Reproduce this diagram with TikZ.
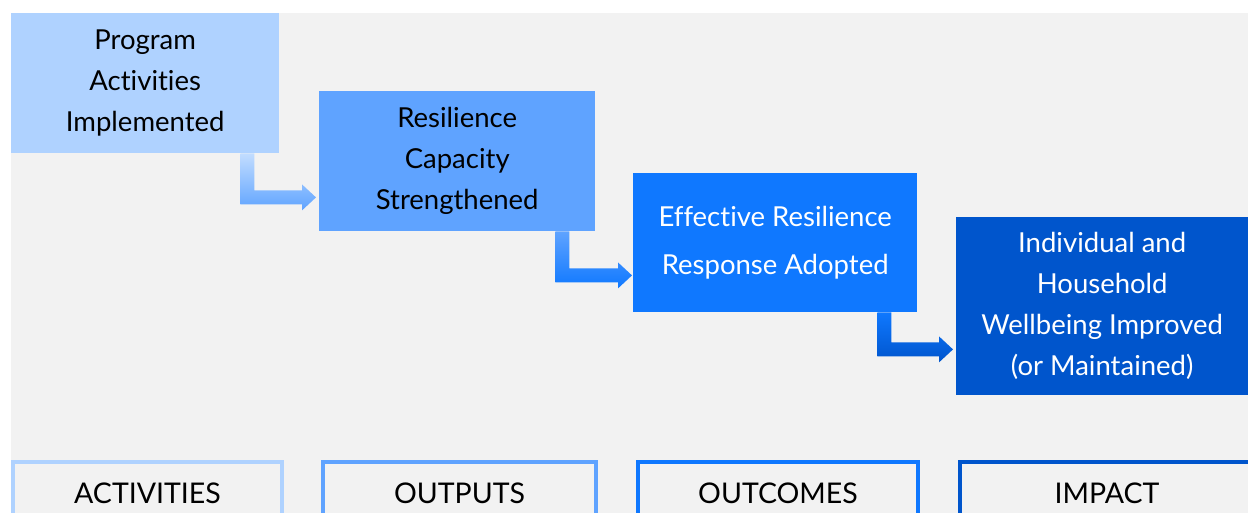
\documentclass[tikz,border=0pt]{standalone}
\usepackage{fontspec}
\setmainfont[Ligatures={NoCommon,NoContextual}]{Lato}
\usetikzlibrary{calc}
\definecolor{bg}{HTML}{F2F2F2}
\definecolor{cA}{HTML}{AFD2FF}
\definecolor{cB}{HTML}{5FA3FF}
\definecolor{cC}{HTML}{0F78FF}
\definecolor{cD}{HTML}{0055CC}
\definecolor{aA}{HTML}{C2DDFF}
\newcommand\elbowarrow[4]{%
  \shade[top color=#3, bottom color=#4] let \p1=(#1), \p2=(#2) in
    (\x1-7pt,\y1) -- (\x1+7pt,\y1) -- (\x1+7pt,\y2+7pt) -- (\x2-14pt,\y2+7pt)
    -- (\x2-14pt,\y2+13pt) -- (\x2,\y2) -- (\x2-14pt,\y2-13pt) -- (\x2-14pt,\y2-7pt)
    -- (\x1-7pt,\y2-7pt) -- cycle;}
\begin{document}
\begin{tikzpicture}[x=1pt,y=-1pt,
  stage/.style={rectangle, inner sep=0pt, anchor=north west, align=center,
    font=\fontsize{27.5}{41}\selectfont},
  label/.style={rectangle, draw, line width=4pt, fill=bg, inner sep=0pt,
    anchor=north west},
  labeltext/.style={font=\fontsize{28.5}{32}\selectfont, inner sep=0pt}]
\useasboundingbox (0,0) rectangle (1248,513);
\clip (0,0) rectangle (1248,513);
\fill[white] (0,0) rectangle (1248,513);
\fill[bg] (11,13) rectangle (1248,513);
% stage boxes
\node[stage, fill=cA, text=black, minimum width=268pt, minimum height=140pt] (b1) at (11,13)
  {Program\\Activities\\Implemented};
\node[stage, fill=cB, text=black, minimum width=276pt, minimum height=140pt] (b2) at (319,91)
  {Resilience\\Capacity\\Strengthened};
\node[stage, fill=cC, text=white, minimum width=284pt, minimum height=139pt,
  font=\fontsize{27.5}{48}\selectfont] (b3) at (633,173)
  {Effective Resilience\\Response Adopted};
\node[stage, fill=cD, text=white, minimum width=292pt, minimum height=178pt] (b4) at (956,217)
  {Individual and\\Household\\Wellbeing Improved\\(or Maintained)};
% elbow arrows
\coordinate (s1) at ($(b1.south east)+(-32,0)$);
\coordinate (t1) at ($(b2.south west)+(-3,-34)$);
\elbowarrow{s1}{t1}{aA}{cB}
\coordinate (s2) at ($(b2.south east)+(-33,0)$);
\coordinate (t2) at ($(b3.south west)+(-1,-37)$);
\elbowarrow{s2}{t2}{cB}{cC}
\coordinate (s3) at ($(b3.south east)+(-33,0)$);
\coordinate (t3) at ($(b4.south west)+(-3,-46)$);
\elbowarrow{s3}{t3}{cC}{cD}
% category labels
\node[label, draw=cA, minimum width=269pt, minimum height=80pt] (l1) at (11,460) {};
\node[labeltext] at ($(l1.north)+(0,33)$) (l1t) {ACTIVITIES};
\node[label, draw=cB, minimum width=273pt, minimum height=80pt] (l2) at (321,460) {};
\node[labeltext] at ($(l2.north)+(0,33)$) (l2t) {OUTPUTS};
\node[label, draw=cC, minimum width=280pt, minimum height=80pt] (l3) at (636,460) {};
\node[labeltext] at ($(l3.north)+(0,33)$) (l3t) {OUTCOMES};
\node[label, draw=cD, minimum width=294pt, minimum height=80pt] (l4) at (958,460) {};
\node[labeltext] at ($(l4.north)+(0,33)$) (l4t) {IMPACT};
\end{tikzpicture}
\end{document}
